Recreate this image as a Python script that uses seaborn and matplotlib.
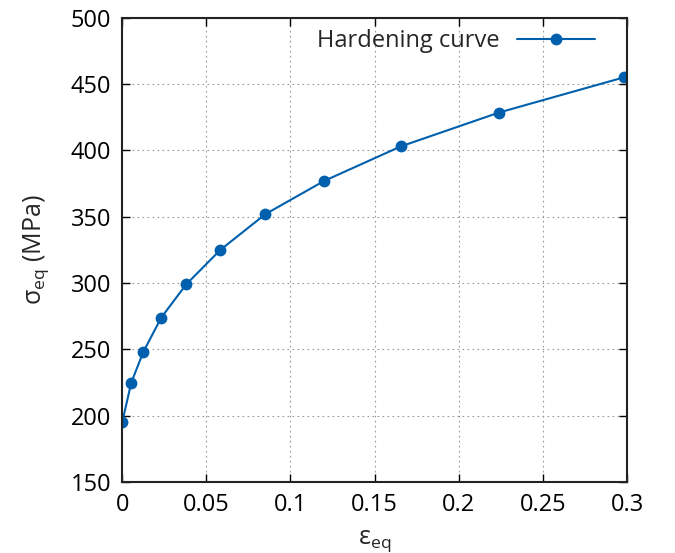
import numpy as np
import pandas as pd
import matplotlib
matplotlib.use("Agg")
import matplotlib.pyplot as plt
from matplotlib.ticker import FuncFormatter
import seaborn as sns

# hardening curve points
strain = [0.0, 0.0054, 0.0125, 0.0232, 0.038, 0.0583, 0.0851, 0.120, 0.1655, 0.2238, 0.298]
stress = [195, 225, 248, 274, 299, 325, 352, 377, 403, 428.5, 455]
series_name = "Hardening curve"

xticks = [0, 0.05, 0.1, 0.15, 0.2, 0.25, 0.3]
yticks = [150, 200, 250, 300, 350, 400, 450, 500]

df = pd.DataFrame({"strain": strain, "stress": stress, "curve": series_name})

sns.set_style("ticks")
plt.rcParams["font.family"] = ["Open Sans", "DejaVu Sans"]
plt.rcParams["mathtext.fontset"] = "custom"
plt.rcParams["mathtext.rm"] = "Open Sans"
plt.rcParams["mathtext.it"] = "Open Sans"

fig = plt.figure(figsize=(6.75, 5.53), dpi=100)
ax = fig.add_axes([0.181, 0.128, 0.748, 0.840])

sns.lineplot(data=df, x="strain", y="stress", marker="o", color="#0060ad",
             linewidth=1.5, markersize=8.5, markeredgewidth=0,
             label=series_name, ax=ax)

ax.set_xlim(0, 0.3)
ax.set_ylim(150, 500)
ax.set_xticks(xticks)
ax.set_yticks(yticks)
ax.xaxis.set_major_formatter(FuncFormatter(lambda v, p: "{:g}".format(round(v, 3))))
ax.tick_params(direction="in", length=6, width=1.0, top=True, right=True,
               labelsize=17, pad=8, colors="black")
for s in ax.spines.values():
    s.set_linewidth(1.5)
    s.set_color("#222222")
    s.set_visible(True)
ax.grid(True, linestyle=(0, (1.5, 3)), color="#999999", linewidth=0.8)

ax.set_xlabel("ε$_\\mathregular{eq}$", fontsize=18, labelpad=8)
ax.set_ylabel("σ$_\\mathregular{eq}$ (MPa)", fontsize=18, labelpad=14)

ax.legend(loc="upper right", bbox_to_anchor=(0.955, 0.995), frameon=False,
          markerfirst=False, fontsize=17, handlelength=3.3, handletextpad=0.75,
          borderaxespad=0)

fig.savefig("out.png", dpi=100)
